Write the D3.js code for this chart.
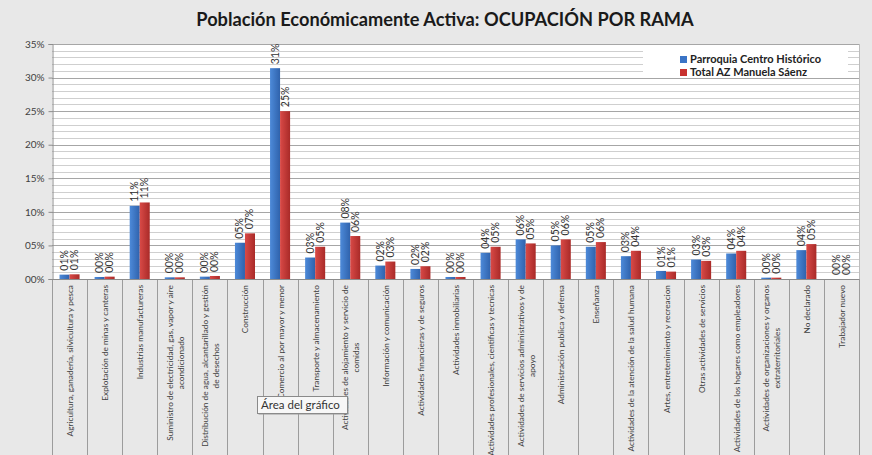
<!DOCTYPE html>
<html>
<head>
<meta charset="utf-8">
<script src="https://cdn.jsdelivr.net/npm/d3@7"></script>
<style>
  html, body { margin: 0; padding: 0; background: #e8e8e8; }
  svg { display: block; }
  text { font-family: Lato, "Open Sans", sans-serif; }
</style>
</head>
<body>
<svg id="chart"></svg>
<script>
const width = 872;
const height = 455;

// data (percent)
const categories = [
  ["Agricultura, ganadería, silvicultura y pesca"],
  ["Explotación de minas y canteras"],
  ["Industrias manufactureras"],
  ["Suministro de electricidad, gas, vapor y aire", "acondicionado"],
  ["Distribución de agua, alcantarillado y gestión", "de desechos"],
  ["Construcción"],
  ["Comercio al por mayor y menor"],
  ["Transporte y almacenamiento"],
  ["Actividades de alojamiento y servicio de", "comidas"],
  ["Información y comunicación"],
  ["Actividades financieras y de seguros"],
  ["Actividades inmobiliarias"],
  ["Actividades profesionales, cientificas y tecnicas"],
  ["Actividades de servicios administrativos y de", "apoyo"],
  ["Administración publica y defensa"],
  ["Enseñanza"],
  ["Actividades de la atención de la salud humana"],
  ["Artes, entretenimiento y recreacion"],
  ["Otras actividades de servicios"],
  ["Actividades de los hogares como empleadores"],
  ["Actividades de organizaciones y organos", "extraterritoriales"],
  ["No declarado"],
  ["Trabajador nuevo"]
];
const seriesNames = ["Parroquia Centro Histórico", "Total AZ Manuela Sáenz"];
const centroHistorico = [0.65, 0.3, 10.9, 0.25, 0.35, 5.4, 31.4, 3.2, 8.4, 2.0, 1.5, 0.3, 3.9, 5.9, 5.0, 4.8, 3.4, 1.2, 2.9, 3.8, 0.2, 4.3, 0];
const manuelaSaenz = [0.7, 0.35, 11.4, 0.25, 0.45, 6.8, 25.0, 4.8, 6.4, 2.6, 1.9, 0.3, 4.8, 5.3, 5.9, 5.5, 4.2, 1.1, 2.7, 4.2, 0.2, 5.2, 0];
const yTicks = [0, 5, 10, 15, 20, 25, 30, 35];
const colors = ["#3a74c6", "#c8312f"];

const title = "Población Económicamente Activa: OCUPACIÓN POR RAMA";
const tooltipText = "Área del gráfico";

const plot = { left: 52, right: 859, top: 44, bottom: 279 };
const pct = v => String(Math.round(v)).padStart(2, "0") + "%";

const svg = d3.select("#chart").attr("width", width).attr("height", height);

// gradients for the bars
const defs = svg.append("defs");
[["gBlue", "#4d8ad9", "#2f62ac"], ["gRed", "#d94a47", "#a92a28"]].forEach(([id, a, b]) => {
  const g = defs.append("linearGradient").attr("id", id).attr("x1", 0).attr("x2", 1).attr("y1", 0).attr("y2", 0);
  g.append("stop").attr("offset", "0%").attr("stop-color", a);
  g.append("stop").attr("offset", "100%").attr("stop-color", b);
});
const fills = ["url(#gBlue)", "url(#gRed)"];

svg.append("rect").attr("width", width).attr("height", height).attr("fill", "#e8e8e8");

// title
const t = svg.append("text")
  .attr("x", 445).attr("y", 26)
  .attr("text-anchor", "middle")
  .style("font-weight", "bold").style("font-size", "17px").style("fill", "#1a1a1a")
  .text(title);
const tw = t.node().getComputedTextLength();
t.style("font-size", (17 * 498 / tw).toFixed(2) + "px");

const x = d3.scaleBand()
  .domain(d3.range(categories.length))
  .range([plot.left, plot.right])
  .padding(0);

const x1 = d3.scaleBand()
  .domain([0, 1])
  .range([0, x.bandwidth()])
  .paddingInner(0)
  .paddingOuter(0.75);

const y = d3.scaleLinear().domain([0, 35]).range([plot.bottom, plot.top]);

// plot area
svg.append("rect")
  .attr("x", plot.left).attr("y", plot.top)
  .attr("width", plot.right - plot.left).attr("height", plot.bottom - plot.top)
  .attr("fill", "#fff");

// minor gridlines every 1%
svg.append("g").selectAll("line")
  .data(d3.range(1, 35).filter(v => v % 5 !== 0))
  .join("line")
  .attr("x1", plot.left).attr("x2", plot.right)
  .attr("y1", d => Math.round(y(d)) + 0.5).attr("y2", d => Math.round(y(d)) + 0.5)
  .attr("stroke", "#cfcfcf");

// major gridlines
svg.append("g").selectAll("line")
  .data(yTicks.slice(1))
  .join("line")
  .attr("x1", plot.left).attr("x2", plot.right)
  .attr("y1", d => Math.round(y(d)) + 0.5).attr("y2", d => Math.round(y(d)) + 0.5)
  .attr("stroke", "#a6a6a6");

// right border of plot
svg.append("line")
  .attr("x1", plot.right + 0.5).attr("x2", plot.right + 0.5)
  .attr("y1", plot.top).attr("y2", plot.bottom)
  .attr("stroke", "#bdbdbd");

// y axis
const yAxis = svg.append("g")
  .attr("transform", `translate(${plot.left + 0.5},0)`)
  .call(d3.axisLeft(y).tickValues(yTicks).tickFormat(pct).tickSize(4).tickPadding(4));
yAxis.select(".domain").attr("stroke", "#8c8c8c");
yAxis.selectAll(".tick line").attr("stroke", "#8c8c8c");
yAxis.selectAll(".tick text").style("font-size", "10px").style("fill", "#404040")
  .style("font-family", "Lato, sans-serif");

// legend box
svg.append("rect")
  .attr("x", 643).attr("y", 47).attr("width", 205).attr("height", 31)
  .attr("fill", "#fff");

// category separators (extend through label area)
svg.append("g").selectAll("line")
  .data(d3.range(categories.length + 1))
  .join("line")
  .attr("x1", d => Math.round(d < categories.length ? x(d) : plot.right) + 0.5)
  .attr("x2", d => Math.round(d < categories.length ? x(d) : plot.right) + 0.5)
  .attr("y1", plot.bottom).attr("y2", height)
  .attr("stroke", "#9c9c9c");

// bars
const series = [centroHistorico, manuelaSaenz];
const groups = svg.append("g").selectAll("g")
  .data(series)
  .join("g");

groups.selectAll("rect")
  .data((vals, si) => vals.map((v, i) => ({ v, i, si })))
  .join("rect")
  .attr("x", d => x(d.i) + x1(d.si))
  .attr("width", x1.bandwidth())
  .attr("y", d => y(d.v))
  .attr("height", d => y(0) - y(d.v))
  .attr("fill", d => fills[d.si]);

// value labels
groups.selectAll("text")
  .data((vals, si) => vals.map((v, i) => ({ v, i, si })))
  .join("text")
  .attr("transform", d => `translate(${x(d.i) + x1(d.si) + x1.bandwidth() / 2 + 3.5},${y(d.v) - 4}) rotate(-90)`)
  .style("font-size", "10.5px").style("fill", "#333")
  .text(d => pct(d.v));

// x axis line
svg.append("line")
  .attr("x1", plot.left).attr("x2", plot.right)
  .attr("y1", plot.bottom + 0.5).attr("y2", plot.bottom + 0.5)
  .attr("stroke", "#8c8c8c");

// category labels
const lineH = 11;
const cl = svg.append("g").selectAll("text")
  .data(categories)
  .join("text")
  .attr("transform", (d, i) => {
    const cx = x(i) + x.bandwidth() / 2 - (d.length - 1) * lineH / 2 + 3.5;
    return `translate(${cx},285) rotate(-90)`;
  })
  .attr("text-anchor", "end")
  .style("font-size", "8.3px").style("fill", "#404040");
cl.selectAll("tspan")
  .data(d => d.map((s, k) => ({ s, k, n: d.length })))
  .join("tspan")
  .attr("x", 0)
  .attr("dy", d => d.k === 0 ? 0 : lineH)
  .attr("text-anchor", d => d.n > 1 && d.k > 0 ? "middle" : "end")
  .text(d => d.s);

// center wrapped second lines under the first line
cl.each(function (d) {
  if (d.length < 2) return;
  const spans = d3.select(this).selectAll("tspan").nodes();
  const w0 = spans[0].getComputedTextLength();
  spans.slice(1).forEach(s => d3.select(s).attr("x", -w0 / 2));
});

// legend
const legend = svg.append("g").selectAll("g")
  .data(seriesNames)
  .join("g")
  .attr("transform", (d, i) => `translate(680,${56 + i * 13})`);
legend.append("rect").attr("width", 7).attr("height", 7).attr("fill", (d, i) => colors[i]);
legend.append("text")
  .attr("x", 10).attr("y", 7)
  .style("font-size", "11px").style("font-weight", "bold").style("fill", "#222")
  .text(d => d);

// tooltip box
const tip = svg.append("g").attr("transform", "translate(257,396)");
tip.append("rect").attr("x", 1.5).attr("y", 1.5).attr("width", 90).attr("height", 17).attr("fill", "#9a9a9a");
tip.append("rect").attr("x", 0.5).attr("y", 0.5).attr("width", 90).attr("height", 17)
  .attr("fill", "#f7f7f7").attr("stroke", "#8a8a8a");
tip.append("text").attr("x", 4).attr("y", 13)
  .style("font-size", "11.5px").style("fill", "#333").text(tooltipText);
</script>
</body>
</html>
